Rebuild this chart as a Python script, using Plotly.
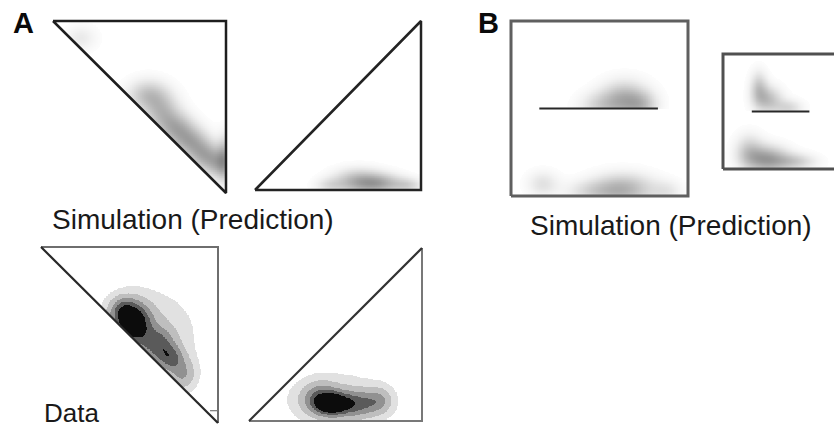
import numpy as np
import plotly.graph_objects as go

W, H = 834, 429

# ---------------- data: density components (cx, cy, sx, sy, weight, lower cut) ----------------
# Panel A, simulation, left triangle (right angle at top-right)
A_SIM_L_CX = [0.16, 0.55, 0.63, 0.71, 0.79, 0.87, 0.95, 0.99]
A_SIM_L_CY = [0.90, 0.57, 0.47, 0.38, 0.30, 0.22, 0.17, 0.20]
A_SIM_L_SX = [0.06, 0.08, 0.07, 0.07, 0.07, 0.06, 0.05, 0.03]
A_SIM_L_SY = [0.05, 0.06, 0.07, 0.06, 0.06, 0.06, 0.06, 0.09]
A_SIM_L_W = [0.12, 0.32, 0.32, 0.35, 0.38, 0.36, 0.32, 0.32]
A_SIM_L_CUT = [0, 0, 0, 0, 0, 0, 0, 0]

# Panel A, simulation, right triangle (right angle at bottom-right)
A_SIM_R_CX = [0.45, 0.62, 0.76, 0.92]
A_SIM_R_CY = [0.03, 0.05, 0.04, 0.03]
A_SIM_R_SX = [0.06, 0.10, 0.09, 0.06]
A_SIM_R_SY = [0.03, 0.05, 0.04, 0.03]
A_SIM_R_W = [0.15, 0.40, 0.35, 0.20]
A_SIM_R_CUT = [0, 0, 0, 0]

# Panel A, data, left triangle
A_DAT_L_CX = [0.52, 0.46, 0.66, 0.73, 0.80, 0.60]
A_DAT_L_CY = [0.57, 0.64, 0.45, 0.37, 0.28, 0.50]
A_DAT_L_SX = [0.065, 0.05, 0.06, 0.05, 0.05, 0.16]
A_DAT_L_SY = [0.075, 0.05, 0.06, 0.05, 0.06, 0.15]
A_DAT_L_W = [1.00, 0.45, 0.50, 0.50, 0.35, 0.22]
A_DAT_L_CUT = [0, 0, 0, 0, 0, 0]

# Panel A, data, right triangle
A_DAT_R_CX = [0.48, 0.41, 0.62, 0.75, 0.52]
A_DAT_R_CY = [0.10, 0.13, 0.10, 0.12, 0.12]
A_DAT_R_SX = [0.06, 0.07, 0.08, 0.05, 0.17]
A_DAT_R_SY = [0.04, 0.06, 0.05, 0.05, 0.09]
A_DAT_R_W = [1.00, 0.50, 0.50, 0.30, 0.22]
A_DAT_R_CUT = [0, 0, 0, 0, 0]

# Panel B, large square
B_BIG_CX = [0.64, 0.50, 0.74, 0.18, 0.63, 0.45, 0.88]
B_BIG_CY = [0.55, 0.52, 0.52, 0.07, 0.04, 0.03, 0.03]
B_BIG_SX = [0.09, 0.08, 0.06, 0.06, 0.12, 0.10, 0.06]
B_BIG_SY = [0.07, 0.05, 0.05, 0.05, 0.06, 0.04, 0.04]
B_BIG_W = [0.42, 0.18, 0.22, 0.16, 0.40, 0.15, 0.12]
B_BIG_CUT = [0.5, 0.5, 0.5, 0, 0, 0, 0]

# Panel B, small box
B_SML_CX = [0.30, 0.38, 0.55, 0.37, 0.22, 0.60]
B_SML_CY = [0.70, 0.60, 0.53, 0.08, 0.15, 0.06]
B_SML_SX = [0.05, 0.08, 0.08, 0.12, 0.08, 0.12]
B_SML_SY = [0.10, 0.08, 0.05, 0.08, 0.10, 0.05]
B_SML_W = [0.28, 0.32, 0.20, 0.48, 0.25, 0.25]
B_SML_CUT = [0.5, 0.5, 0.5, 0, 0, 0]

# outline vertices (unit coordinates)
TRI_DOWN_X = [0, 1, 1, 0]
TRI_DOWN_Y = [1, 1, 0, 1]
TRI_UP_X = [0, 1, 1, 0]
TRI_UP_Y = [0, 1, 0, 0]
BOX_X = [0, 1, 1, 0, 0]
BOX_Y = [0, 0, 1, 1, 0]
BIG_LINE_X = [0.16, 0.83]
BIG_LINE_Y = [0.5, 0.5]
SML_LINE_X = [0.24, 0.72]
SML_LINE_Y = [0.5, 0.5]
TICK_X = [0.955, 1.0]
TICK_Y = [0.07, 0.07]

LABELS = ["A", "B"]
CAPTION_SIM = "Simulation (Prediction)"
CAPTION_DATA = "Data"

# ---------------- helpers ----------------
N = 260
g = np.linspace(0, 1, N)
GX, GY = np.meshgrid(g, g)


def density(cx, cy, sx, sy, w, cut):
    z = np.zeros_like(GX)
    for a, b, c, d, e, f in zip(cx, cy, sx, sy, w, cut):
        comp = e * np.exp(-0.5 * (((GX - a) / c) ** 2 + ((GY - b) / d) ** 2))
        comp = np.where(GY >= f, comp, 0.0)
        z += comp
    return np.clip(z, 0, 1)


def mask(kind):
    if kind == "down":
        return GX + GY >= 1.0
    if kind == "up":
        return GY <= GX
    return np.ones_like(GX, dtype=bool)


SIM_SCALE = [[0, "rgb(255,255,255)"], [0.08, "rgb(242,242,242)"], [1, "rgb(60,60,60)"]]


def stepped(levels, colors):
    cs = []
    edges = [0] + levels + [1]
    for i, col in enumerate(colors):
        cs.append([edges[i], col])
        cs.append([edges[i + 1], col])
    return cs


DATA_SCALE = stepped([0.06, 0.18, 0.36, 0.56, 0.78],
                     ["rgb(255,255,255)", "rgb(225,225,225)", "rgb(190,190,190)",
                      "rgb(145,145,145)", "rgb(90,90,90)", "rgb(12,12,12)"])

# panel frames in pixels: (x at 0, x at 1, y px at data 0, y px at data 1)
panels = [
    dict(frame=(53, 226, 193, 21), kind="down", scale=SIM_SCALE,
         comps=(A_SIM_L_CX, A_SIM_L_CY, A_SIM_L_SX, A_SIM_L_SY, A_SIM_L_W, A_SIM_L_CUT),
         lines=[(TRI_DOWN_X, TRI_DOWN_Y, "rgb(30,30,30)", 2.5)]),
    dict(frame=(255, 421, 190, 21), kind="up", scale=SIM_SCALE,
         comps=(A_SIM_R_CX, A_SIM_R_CY, A_SIM_R_SX, A_SIM_R_SY, A_SIM_R_W, A_SIM_R_CUT),
         lines=[(TRI_UP_X, TRI_UP_Y, "rgb(35,35,35)", 2.5)]),
    dict(frame=(41, 218, 423, 247), kind="down", scale=DATA_SCALE,
         comps=(A_DAT_L_CX, A_DAT_L_CY, A_DAT_L_SX, A_DAT_L_SY, A_DAT_L_W, A_DAT_L_CUT),
         lines=[([0, 1, 1], [1, 1, 0], "rgb(110,110,110)", 2),
                ([0, 1], [1, 0], "rgb(40,40,40)", 2.2),
                (TICK_X, TICK_Y, "rgb(120,120,120)", 1.2)]),
    dict(frame=(249, 422, 421, 248), kind="up", scale=DATA_SCALE,
         comps=(A_DAT_R_CX, A_DAT_R_CY, A_DAT_R_SX, A_DAT_R_SY, A_DAT_R_W, A_DAT_R_CUT),
         lines=[([0, 1, 1], [0, 0, 1], "rgb(120,120,120)", 2),
                ([0, 1], [0, 1], "rgb(50,50,50)", 2.2)]),
    dict(frame=(511, 688, 196, 21), kind="box", scale=SIM_SCALE,
         comps=(B_BIG_CX, B_BIG_CY, B_BIG_SX, B_BIG_SY, B_BIG_W, B_BIG_CUT),
         lines=[(BOX_X, BOX_Y, "rgb(95,95,95)", 3),
                (BIG_LINE_X, BIG_LINE_Y, "rgb(40,40,40)", 2.2)]),
    dict(frame=(723, 843, 169, 54), kind="box", scale=SIM_SCALE,
         comps=(B_SML_CX, B_SML_CY, B_SML_SX, B_SML_SY, B_SML_W, B_SML_CUT),
         lines=[(BOX_X, BOX_Y, "rgb(80,80,80)", 3),
                (SML_LINE_X, SML_LINE_Y, "rgb(40,40,40)", 2.2)]),
]

fig = go.Figure()
layout = {}
PAD = 0.04
for i, p in enumerate(panels):
    sfx = "" if i == 0 else str(i + 1)
    x0, x1, yb, yt = p["frame"]
    w = x1 - x0
    h = yb - yt
    left = max(0.0, x0 - PAD * w)
    right = min(float(W), x1 + PAD * w)
    top = max(0.0, yt - PAD * h)
    bottom = min(float(H), yb + PAD * h)
    layout["xaxis" + sfx] = dict(domain=[left / W, right / W],
                                 range=[(left - x0) / w, (right - x0) / w],
                                 visible=False, fixedrange=True, anchor="y" + sfx)
    layout["yaxis" + sfx] = dict(domain=[1 - bottom / H, 1 - top / H],
                                 range=[(yb - bottom) / h, (yb - top) / h],
                                 visible=False, fixedrange=True, anchor="x" + sfx)
    z = density(*p["comps"])
    z = np.where(mask(p["kind"]) & (z > 0.015), z, np.nan)
    fig.add_trace(go.Heatmap(x=g, y=g, z=z, colorscale=p["scale"], zmin=0, zmax=1,
                             showscale=False, hoverinfo="skip",
                             xaxis="x" + sfx, yaxis="y" + sfx))
    for lx, ly, col, lw in p["lines"]:
        fig.add_trace(go.Scatter(x=lx, y=ly, mode="lines",
                                 line=dict(color=col, width=lw),
                                 showlegend=False, hoverinfo="skip",
                                 xaxis="x" + sfx, yaxis="y" + sfx))

ann = []
font_lbl = dict(family="Liberation Sans, Arial, sans-serif", size=29, color="rgb(10,10,10)")
font_txt = dict(family="Liberation Sans, Arial, sans-serif", size=28, color="rgb(25,25,25)")
font_dat = dict(family="Liberation Sans, Arial, sans-serif", size=26, color="rgb(25,25,25)")
ann.append(dict(x=11 / W, y=1 - 23 / H, text="<b>" + LABELS[0] + "</b>", font=font_lbl,
                yanchor="middle"))
ann.append(dict(x=476 / W, y=1 - 23 / H, text="<b>" + LABELS[1] + "</b>", font=font_lbl,
                yanchor="middle"))
ann.append(dict(x=50 / W, y=1 - 219 / H, text=CAPTION_SIM, font=font_txt, yanchor="middle"))
ann.append(dict(x=528 / W, y=1 - 225 / H, text=CAPTION_SIM, font=font_txt, yanchor="middle"))
ann.append(dict(x=43 / W, y=0.0, text=CAPTION_DATA, font=font_dat, yanchor="bottom",
                borderpad=0))
for a in ann:
    a.update(xref="paper", yref="paper", xanchor="left", showarrow=False)

fig.update_layout(**layout)
fig.update_layout(width=W, height=H, margin=dict(l=0, r=0, t=0, b=0),
                  paper_bgcolor="white", plot_bgcolor="rgba(0,0,0,0)",
                  showlegend=False, annotations=ann)
fig.write_html("out.html", config={"displayModeBar": False},
               post_script="document.body.style.margin='0px';document.body.style.overflow='hidden';")
